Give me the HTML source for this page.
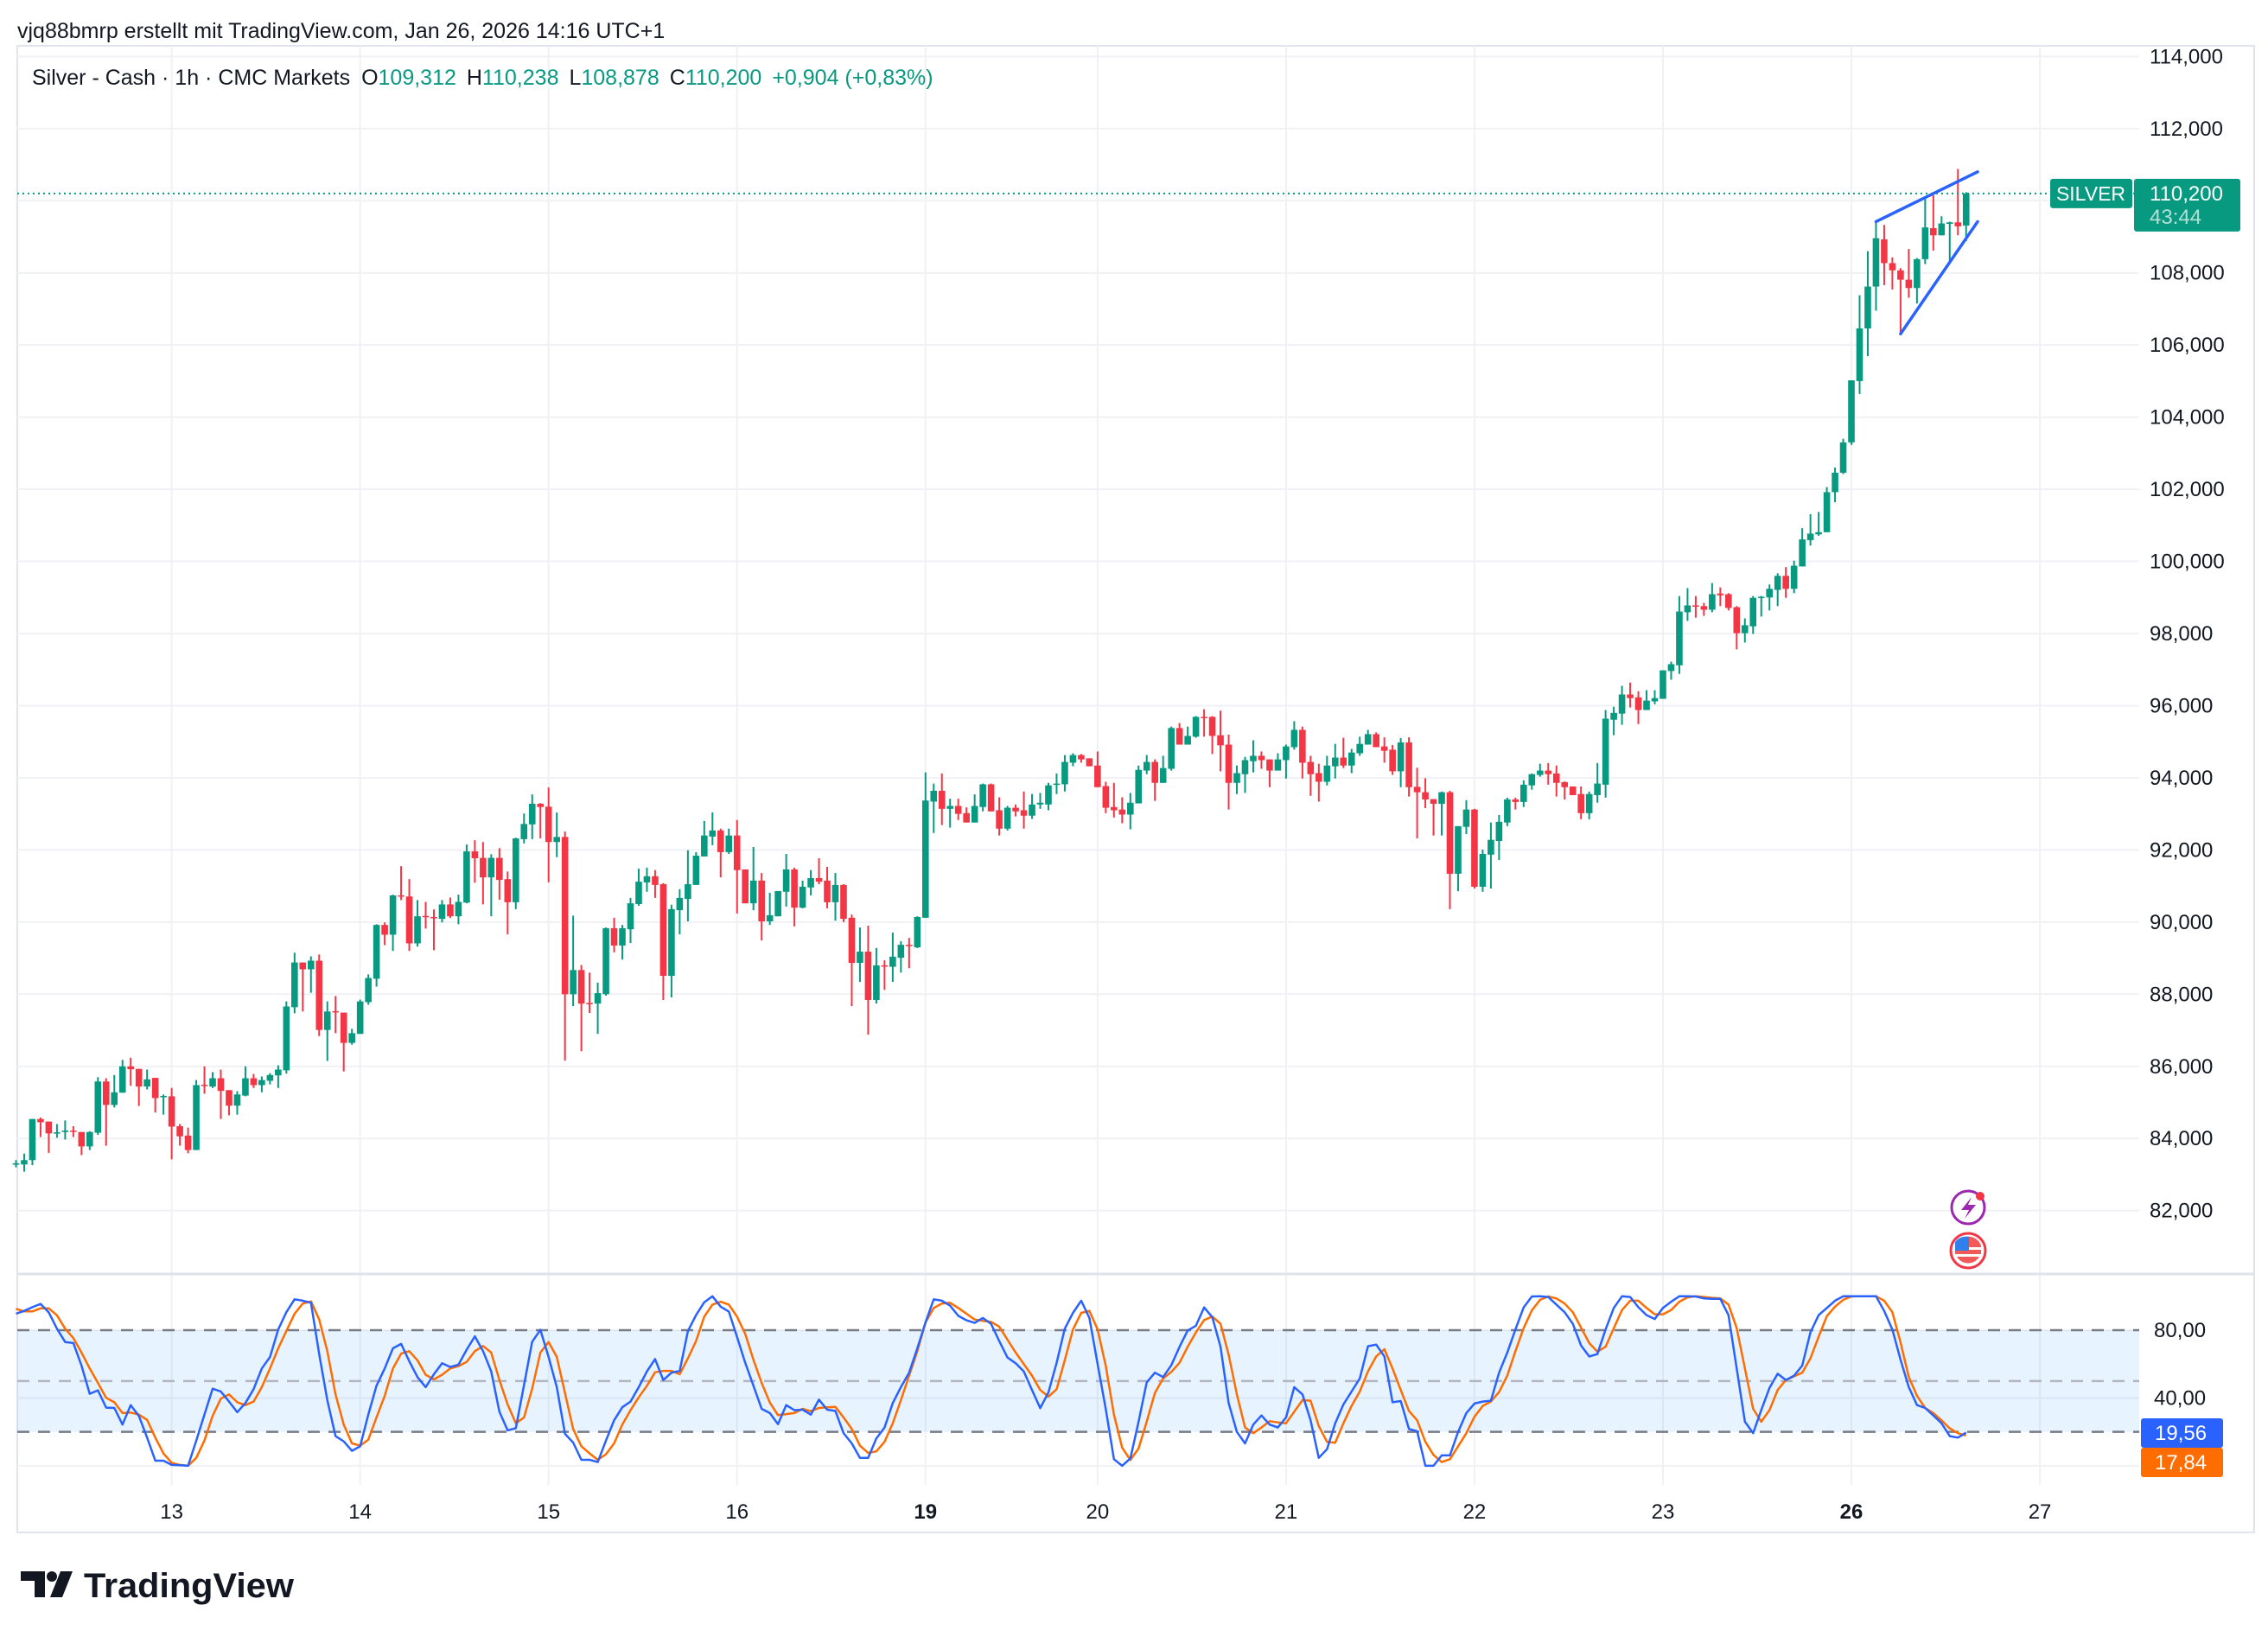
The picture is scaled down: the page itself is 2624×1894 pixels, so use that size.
<!DOCTYPE html>
<html><head><meta charset="utf-8"><title>Silver - Cash 1h</title>
<style>
html,body{margin:0;padding:0;background:#fff;}
svg{display:block;font-family:"Liberation Sans",sans-serif;}
</style></head>
<body>
<svg id="chart" xmlns="http://www.w3.org/2000/svg" width="2624" height="1894" viewBox="0 0 2624 1894">
  <rect x="0" y="0" width="2624" height="1894" fill="#ffffff"/>
  <text x="20" y="44" font-size="25" fill="#131722">vjq88bmrp erstellt mit TradingView.com, Jan 26, 2026 14:16 UTC+1</text>
  <rect x="20" y="53" width="2588" height="1720" fill="none" stroke="#e0e3eb" stroke-width="2"/>
  <g id="grid"></g>
  <rect id="band" x="20" y="0" width="2455" height="0" fill="#2196f3" fill-opacity="0.11"/>
  <g id="oscLines"></g>
  <g id="candles"></g>
  <g id="osc"></g>
  <line x1="20" y1="1474" x2="2608" y2="1474" stroke="#e0e3eb" stroke-width="3"/>
  <g id="axes"></g>
  <g id="overlay"></g>
  <text x="37" y="98" font-size="25" fill="#131722">Silver - Cash · 1h · CMC Markets <tspan dx="6">O</tspan><tspan fill="#089981">109,312</tspan><tspan dx="12">H</tspan><tspan fill="#089981">110,238</tspan><tspan dx="12">L</tspan><tspan fill="#089981">108,878</tspan><tspan dx="12">C</tspan><tspan fill="#089981">110,200</tspan><tspan dx="12" fill="#089981">+0,904 (+0,83%)</tspan></text>
  <g>
    <path d="M24 1818 H52 V1848 H40 V1829 H24 Z" fill="#131722"/>
    <circle cx="60" cy="1824" r="6" fill="#131722"/>
    <path d="M70 1818 H84 L72 1848 H58 Z" fill="#131722"/>
    <text x="97" y="1848" font-size="40" font-weight="bold" fill="#131722" textLength="243" lengthAdjust="spacingAndGlyphs">TradingView</text>
  </g>
</svg>
<script>
// ---- price data (hourly candles) ----
const opens = [83300,83280,83400,84540,84470,84140,84180,84220,84180,83780,84160,85580,84930,85270,86000,85930,85440,85680,85160,85170,84340,84080,83680,85490,85440,85670,85340,84910,85190,85670,85480,85600,85750,85890,87640,88880,88690,88930,87010,87530,87490,86650,86900,87780,88430,89920,89650,90740,90710,89410,90170,90140,90090,90490,90160,90540,91960,91780,
91240,91780,91190,90550,92300,92710,93280,93200,92220,92360,88000,88670,87760,87740,88000,89830,89350,89800,90500,91100,91270,91050,88510,90330,90640,91030,91820,92370,92540,91940,92400,91460,90520,91150,90020,90160,90840,91460,90400,90960,91220,91150,90550,91030,90120,88870,89180,87840,88800,88760,89010,89370,89300,90120,93340,93640,
93140,93220,93020,92760,93190,93820,93100,92590,93170,93100,92950,93260,93260,93830,93820,94420,94630,94540,94340,93770,93190,93120,92980,93290,94200,94440,93860,94250,95380,94920,95140,95690,95690,95180,94920,93860,94100,94460,94610,94510,94200,94490,94850,95330,94440,94130,93890,94320,94560,94340,94680,94920,95210,94870,94780,94180,
94980,93750,93600,93410,93280,93600,91340,92640,93120,90980,91870,92250,92760,93400,93330,93790,94080,94200,94120,93880,93760,93550,93020,93520,93810,95610,95780,96310,96230,95880,96120,96190,96960,97120,98590,98780,98760,98660,99110,99090,98730,98010,98200,99000,99000,99210,99600,99240,
99860,100590,100750,100810,101920,102460,103300,105000,106460,107620,108930,108270,108070,107810,107580,108380,109240,109040,109360,109400,109312];
const highs = [83400,83580,84540,84580,84470,84400,84500,84340,84180,84200,85700,85670,85760,86180,86240,85930,85910,85680,85220,85400,84400,84300,85620,86000,85840,85910,85340,85310,86000,85790,85720,85810,86030,87800,89150,88880,89050,89100,87800,87950,87490,87040,87850,88550,89940,89990,90760,91550,91190,90610,90560,90350,90610,90680,90760,92150,92270,92220,
91880,92050,91400,92340,93010,93540,93300,93730,93040,92510,90180,88810,88600,88320,89850,90120,89920,90670,91480,91510,91440,91080,90480,90910,91990,91940,92800,93040,92590,92590,92830,91460,92080,91360,90810,90860,91890,91510,91150,91440,91770,91530,91360,91050,90210,89850,89900,89280,88940,89710,89470,89560,90160,94150,93840,94120,
93420,93420,93180,93540,93840,93840,93460,93220,93260,93620,93550,93580,93860,94120,94630,94680,94660,94540,94730,93890,93860,93460,93580,94340,94630,94510,94610,95420,95520,95420,95710,95900,95710,95860,95200,94340,94580,95040,94730,94510,94680,94920,95570,95420,94610,94390,94610,94940,95110,94800,95140,95330,95260,95120,94910,95100,
95120,94280,93990,93410,93620,93640,92660,93380,93140,92010,92760,92970,93450,93450,93930,94120,94390,94410,94340,93900,93760,93760,93620,94410,95880,95970,96550,96640,96400,96430,96430,96980,97220,99040,99260,99040,98850,99400,99280,99120,98760,98420,99040,99040,99360,99670,99840,100020,
100920,101310,101370,102060,102600,103400,105020,107380,108600,109430,109330,108430,108130,108660,108410,110120,110150,109570,109420,110880,110238];
const lows = [83200,83080,83260,84040,83600,84020,83970,84040,83540,83680,84100,83800,84860,85270,85460,84900,85360,84720,84660,83420,83800,83590,83680,85240,85400,84540,84640,84660,85170,85400,85280,85500,85400,85800,87470,87520,88040,86840,86150,86920,85860,86600,86900,87710,88210,89360,89200,90610,89200,89320,89820,89220,89990,90110,89940,90520,91090,90490,
90160,90620,89660,90360,92180,92300,92320,91100,91800,86160,87670,86420,87480,86900,87960,89160,88960,89420,90450,90840,90670,87840,87910,89660,90020,91030,91820,92130,91240,91890,90240,90520,90330,89490,89920,90160,90430,89880,90380,90740,91050,90380,90040,90000,87670,88340,86880,87740,88120,88340,88600,88720,89280,90120,92470,92690,
92620,92830,92760,92760,93070,93070,92400,92540,92930,92590,92860,93140,93100,93550,93620,94320,94420,94320,93740,93020,92900,92740,92570,93290,94100,93360,93860,94200,94920,94920,95110,95140,94660,94180,93120,93550,93580,94150,94250,93740,94200,93980,94780,93980,93500,93340,93790,93980,94270,94130,94610,94920,94850,94420,94080,93740,
93480,92320,93160,92400,92400,90360,90860,92440,90930,90840,90930,91720,92660,93120,93190,93670,94030,93810,93480,93400,93520,92850,92850,93310,93450,95180,95470,95950,95490,95880,96040,96190,96720,96880,98350,98440,98490,98590,98760,98640,97560,97750,97990,98470,98640,98760,98990,99120,
99860,100440,100710,100810,101640,102420,103230,104640,105690,106950,107660,107540,106300,107310,107150,108240,108620,109040,108300,109040,108878];
const closes = [83310,83400,84540,84450,84140,84170,84220,84200,83780,84180,85580,84930,85280,86000,85920,85440,85640,85120,85180,84330,84060,83680,85480,85480,85670,85320,84910,85220,85670,85480,85620,85760,85910,87660,88880,88690,88930,87010,87520,87510,86650,86920,87800,88450,89920,89650,90740,90720,89410,90160,90150,90120,90490,90160,90560,91960,91770,91240,
91780,91170,90550,92320,92720,93280,93190,92220,92360,88000,88670,87740,87740,88030,89830,89350,89830,90520,91120,91270,91030,88510,90360,90670,91050,91840,92400,92540,91940,92400,91440,90520,91150,90020,90190,90860,91460,90400,90980,91220,91120,90550,91030,90090,88870,89180,87840,88800,88780,89040,89370,89360,90140,93370,93640,93140,
93220,93000,92760,93220,93820,93070,92590,93170,93070,92950,93260,93310,93790,93840,94440,94630,94510,94320,93740,93170,93100,92980,93310,94220,94440,93860,94270,95380,94920,95160,95690,95680,95160,94900,93860,94130,94490,94610,94490,94200,94510,94870,95330,94420,94100,93890,94340,94560,94340,94700,94940,95210,94850,94750,94180,94980,
93740,93600,93400,93280,93600,91340,92660,93120,90980,91890,92280,92780,93400,93330,93810,94100,94200,94100,93860,93740,93520,93020,93550,93840,95640,95800,96310,96210,95880,96140,96210,96980,97150,98610,98780,98760,98660,99090,99060,98710,98010,98230,98990,99020,99240,99600,99240,99880,
100610,100770,100810,101920,102460,103300,105020,106460,107620,108960,108270,108070,107810,107580,108380,109260,109040,109370,109400,109290,110200];
const priceTicks = [82000,84000,86000,88000,90000,92000,94000,96000,98000,100000,102000,104000,106000,108000,110000,112000,114000];
const priceTickLabels = ["82,000","84,000","86,000","88,000","90,000","92,000","94,000","96,000","98,000","100,000","102,000","104,000","106,000","108,000","110,000","112,000","114,000"];
const dayLabels = ["13","14","15","16","19","20","21","22","23","26","27"];
const dayIndex = [19,42,65,88,111,132,155,178,201,224,247];
const dayBold = [false,false,false,false,true,false,false,false,false,true,false];
// ---- stochastic oscillator ----
const stochK = [89.7,91.4,93.6,95.5,90.5,80.9,73.0,72.4,59.1,42.5,44.5,34.3,34.1,24.3,35.8,29.4,16.6,3.0,3.0,0.5,0.3,0,14.9,30.2,45.5,43.8,37.9,31.6,37.0,45.2,57.4,64.2,80.4,90.6,98.2,97.4,96.2,65.9,38.7,17.5,14.4,8.8,11.5,30.2,47.2,57.4,69.3,71.9,61.7,52.3,46.4,54.0,60.5,58.3,59.6,68.5,76.4,67.6,55.7,31.9,20.9,22.2,47.7,73.2,80.2,64.2,46.4,18.8,13.7,3.5,3.5,2.2,14.9,26.8,34.5,37.9,46.4,55.7,63.0,50.6,54.9,56.0,
79.5,88.9,96.5,100,93.9,90.9,76.1,60.8,47.2,33.6,31.1,24.6,35.8,32.8,33.1,30.2,39.0,33.1,32.4,19.2,13.2,4.7,4.7,16.1,22.6,37.0,46.4,54.9,69.3,84.6,98.2,97.4,94.5,88.5,85.8,84.3,87.2,83.8,73.6,63.9,60.5,55.7,44.7,34.0,43.3,60.8,80.9,90.2,97.4,87.2,60.0,33.6,3.9,0,4.4,26.0,49.2,54.9,52.3,59.4,70.2,79.8,82.6,93.4,87.7,70.2,37.0,20.0,13.2,24.3,29.7,24.3,22.6,28.5,46.4,42.1,26.8,4.7,9.8,
25.1,36.2,43.8,51.5,70.5,71.5,64.5,37.5,38.2,21.7,20.4,0,0,6.1,6.1,20.0,31.1,36.7,37.9,38.4,54.9,66.8,80.4,93.4,99.9,100,99.6,95.1,90.6,83.8,71.0,64.5,65.9,80.4,93.1,100,99.6,93.6,88.9,86.6,93.1,96.8,100,100,99.9,98.7,98.5,98.5,88.9,57.4,26.0,19.2,32.8,45.9,54.3,50.6,53.2,59.1,78.7,88.9,93.1,97.4,100,100,100,100,100,91.4,80.4,62.5,46.4,35.8,34.1,29.7,25.1,17.5,16.6,19.56];
const stochD = [92.6,91.1,91.1,92.9,92.9,88.8,80.9,75.3,66.8,57.4,48.9,40.1,37.5,31.1,31.4,30.2,27.1,16.6,7.3,1.8,0.5,0,4.7,14.9,29.4,39.6,42.1,37.5,35.8,37.9,46.4,57.4,69.3,79.5,89.7,95.7,97.0,86.3,67.6,42.1,24.3,13.2,11.9,15.4,28.5,41.3,57.4,66.2,67.6,62.2,53.7,51.0,53.7,57.4,58.8,61.3,67.6,70.7,66.8,50.6,36.2,25.1,28.5,45.5,66.8,73.0,64.2,42.9,21.7,11.5,7.3,3.5,6.8,13.2,24.3,32.8,40.4,47.2,55.2,56.0,56.0,54.0,
63.4,73.6,88.0,95.1,96.8,95.1,88.0,77.8,62.5,48.9,37.3,29.9,30.5,31.1,33.6,32.2,34.1,34.5,34.8,28.5,21.7,11.9,7.6,8.5,14.1,25.1,38.7,53.2,67.6,84.6,93.1,95.7,96.2,93.1,89.7,86.3,85.5,84.9,82.1,74.4,66.8,60.0,53.2,44.7,40.8,45.2,62.2,80.4,90.2,91.4,80.4,59.1,30.2,10.7,3.4,10.2,26.0,43.0,51.5,55.4,60.8,70.2,78.7,86.0,88.0,83.8,65.6,42.1,22.6,19.2,22.6,26.3,25.6,25.1,31.9,38.7,38.4,23.4,14.1,
13.6,25.1,35.3,43.8,55.7,64.5,68.8,57.4,44.7,32.4,26.8,14.1,6.4,2.2,3.9,11.5,19.2,28.9,35.3,37.9,43.5,53.2,67.6,81.2,91.7,97.9,99.9,98.7,95.7,90.6,81.5,72.4,67.3,70.2,81.2,91.9,97.4,97.4,93.1,89.4,89.4,91.9,96.8,99.4,100,99.6,99.1,98.7,95.1,81.2,57.4,33.6,26.0,32.8,44.7,50.6,52.8,54.9,63.4,76.1,88.3,93.9,97.9,99.9,100,100,100,97.4,90.6,72.7,52.3,41.3,34.1,31.1,26.8,22.1,19.2,17.84];
const oscTicks = [40,80];
const oscTickLabels = ["40,00","80,00"];
const oscLevels = [80,50,20];
const lastPrice = 110200;
const wedgeUpper = [[227,109420],[239.4,110800]];
const wedgeLower = [[230,106310],[239.4,109420]];

// ---- axes ----
const NS = "http://www.w3.org/2000/svg";
const X0 = 18.5, STEP = 9.48;
function xAt(i){ return X0 + i*STEP; }
function yPrice(p){ return 315.7 + (108000 - p)*0.04173; }
function yOsc(v){ return 1695.9 - 1.961*v; }
function mk(tag, attrs, parent){ const e=document.createElementNS(NS,tag); for(const k in attrs) e.setAttribute(k,attrs[k]); parent.appendChild(e); return e; }

const grid = document.getElementById('grid');
priceTicks.forEach((p)=>{
  const l = mk('line',{x1:20,x2:2475,y1:yPrice(p),y2:yPrice(p),stroke:'#f0f1f4','stroke-width':2},grid);
  
  
});
oscTicks.concat([0]).forEach((v)=>{
  const l = mk('line',{x1:20,x2:2475,y1:yOsc(v),y2:yOsc(v),stroke:'#f0f1f4','stroke-width':2},grid);
  
  
});
dayIndex.forEach((d)=>{
  const l = mk('line',{x1:xAt(d),x2:xAt(d),y1:53,y2:1718,stroke:'#f0f1f4','stroke-width':2},grid);
  
  
});
const band = document.getElementById('band');
band.setAttribute('y', yOsc(80)); band.setAttribute('height', yOsc(20)-yOsc(80));

const oscL = document.getElementById('oscLines');
oscLevels.forEach((v)=>{
  const l = mk('line',{x1:20,x2:2475,y1:yOsc(v),y2:yOsc(v),stroke:v===50?'#b2b5be':'#787b86','stroke-width':2.5,'stroke-dasharray':'14 10'},oscL);
  
  
});

// ---- candles ----
const cg = document.getElementById('candles');
for(let i=0;i<closes.length;i++){
  const up = closes[i] >= opens[i];
  const col = up ? '#089981' : '#f23645';
  const x = xAt(i);
  const w = mk('line',{x1:x,x2:x,y1:yPrice(highs[i]),y2:yPrice(lows[i]),stroke:col,'stroke-width':2},cg);
  
  
  const top = yPrice(Math.max(opens[i],closes[i])), bot = yPrice(Math.min(opens[i],closes[i]));
  const b = mk('rect',{x:x-3.8,y:top,width:7.6,height:Math.max(1.5,bot-top),fill:col},cg);
  
  
}

// ---- oscillator lines ----
const og = document.getElementById('osc');
function series(arr,color,name){
  const pts = arr.map((v,i)=> xAt(i).toFixed(1)+','+yOsc(Math.max(0,Math.min(100,v))).toFixed(1)).join(' ');
  const pl = mk('polyline',{points:pts,fill:'none',stroke:color,'stroke-width':2.5,'stroke-linejoin':'round'},og);
  
  
}
series(stochD,'#ff6d00','stoch-d-line');
series(stochK,'#2962ff','stoch-k-line');

// ---- axes labels ----
const ax = document.getElementById('axes');
priceTicks.forEach((p,k)=>{
  const t = mk('text',{x:2487,y:yPrice(p)+8,'font-size':24,fill:'#131722'},ax);
  t.textContent = priceTickLabels[k];
  
  
});
oscTicks.forEach((v,k)=>{
  const t = mk('text',{x:2492,y:yOsc(v)+8,'font-size':24,fill:'#131722'},ax);
  t.textContent = oscTickLabels[k];
  
  
});
dayIndex.forEach((d,k)=>{
  const t = mk('text',{x:xAt(d),y:1757,'font-size':24,'text-anchor':'middle',fill:'#131722','font-weight':dayBold[k]?'bold':'normal'},ax);
  t.textContent = dayLabels[k];
  
  
});

// ---- overlays ----
const ov = document.getElementById('overlay');
const pl = mk('line',{x1:20,x2:2475,y1:yPrice(lastPrice),y2:yPrice(lastPrice),stroke:'#089981','stroke-width':2,'stroke-dasharray':'2 4'},ov);


[wedgeUpper,wedgeLower].forEach((seg,k)=>{
  const l = mk('line',{x1:xAt(seg[0][0]),y1:yPrice(seg[0][1]),x2:xAt(seg[1][0]),y2:yPrice(seg[1][1]),stroke:'#2962ff','stroke-width':3.5,'stroke-linecap':'round'},ov);
  
  
});
const yl = yPrice(lastPrice);
const sb = mk('rect',{x:2372,y:yl-17,width:95,height:34,rx:3,fill:'#089981'},ov);


const st = mk('text',{x:2419,y:yl+8,'font-size':23,'text-anchor':'middle',fill:'#ffffff'},ov);
st.textContent='SILVER';


const pb = mk('rect',{x:2469,y:yl-17,width:123,height:61,rx:3,fill:'#089981'},ov);


const pt = mk('text',{x:2487,y:yl+8,'font-size':24,fill:'#ffffff'},ov);
pt.textContent='110,200';


const ct = mk('text',{x:2487,y:yl+35,'font-size':24,fill:'#b2e0d6'},ov);
ct.textContent='43:44';


const kb = mk('rect',{x:2477,y:1641,width:95,height:34,rx:3,fill:'#2962ff'},ov);


const kt = mk('text',{x:2493,y:1666,'font-size':24,fill:'#ffffff'},ov);
kt.textContent='19,56';


const db = mk('rect',{x:2477,y:1675,width:95,height:34,rx:3,fill:'#ff6d00'},ov);


const dt = mk('text',{x:2493,y:1700,'font-size':24,fill:'#ffffff'},ov);
dt.textContent='17,84';


// event icons
const ic1 = mk('g',{},ov);


mk('circle',{cx:2277,cy:1397,r:19,fill:'#fff',stroke:'#9c27b0','stroke-width':3},ic1);
mk('path',{d:'M2281 1385 L2269 1400 H2278 L2273 1410 L2286 1394 H2277 Z',fill:'#9c27b0'},ic1);
mk('circle',{cx:2291,cy:1384,r:5,fill:'#f23645'},ic1);
const ic2 = mk('g',{},ov);


mk('circle',{cx:2277,cy:1447,r:20,fill:'#fff',stroke:'#f23645','stroke-width':3},ic2);
mk('path',{d:'M2262 1441 A16 16 0 0 1 2292 1441 V1451 H2262 Z',fill:'#f25a5a'},ic2);
mk('rect',{x:2262,y:1443,width:30,height:3,fill:'#fff'},ic2);
mk('path',{d:'M2262 1447 V1437 A16 16 0 0 1 2278 1431 V1447 Z',fill:'#2f80ed'},ic2);
mk('path',{d:'M2264 1454 H2290 A15 15 0 0 1 2264 1454 Z',fill:'#f25a5a'},ic2);
</script>
</body></html>
